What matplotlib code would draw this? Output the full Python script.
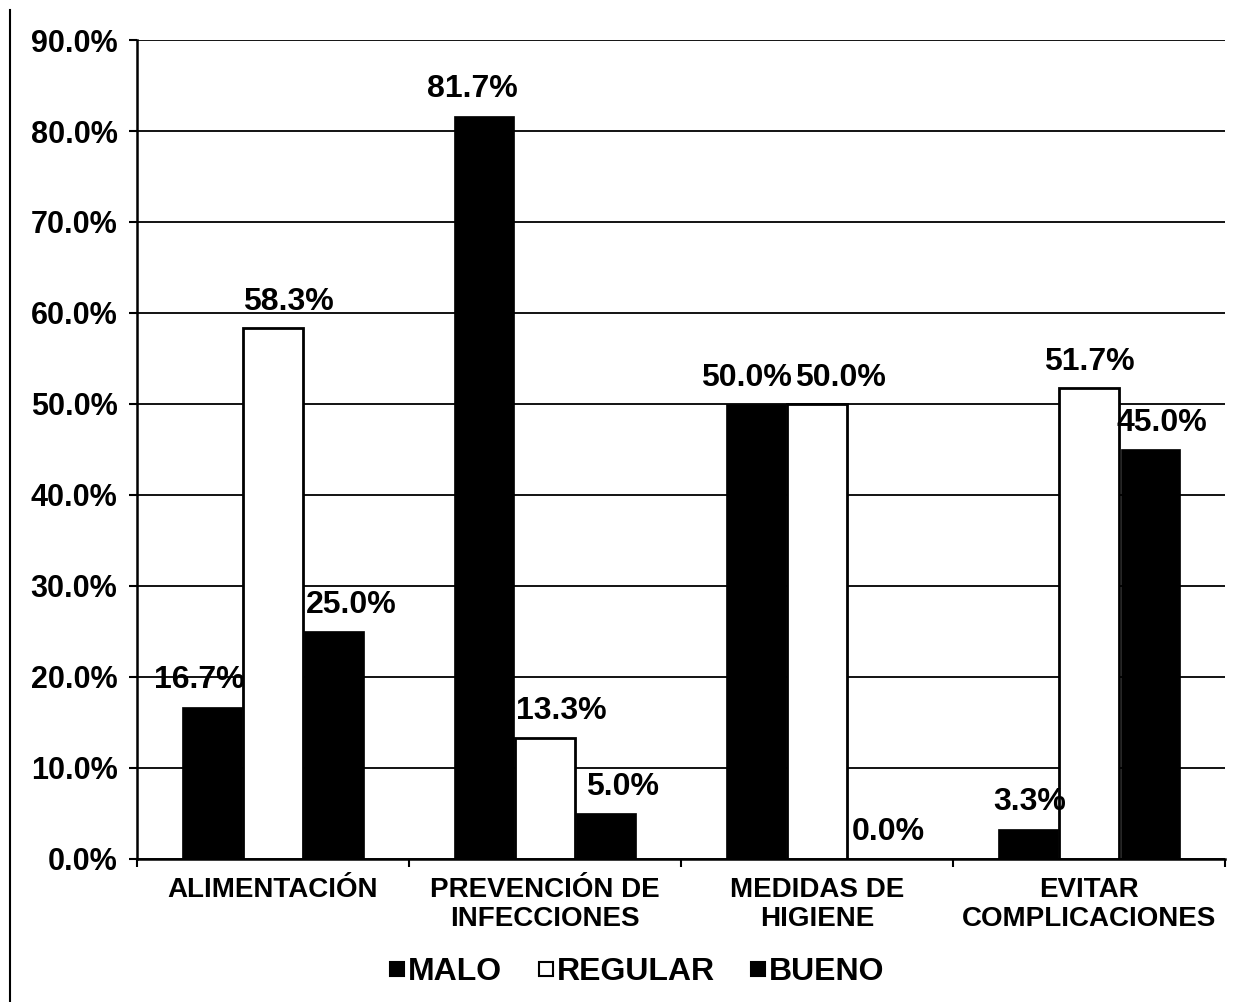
import matplotlib
matplotlib.use("Agg")
import matplotlib.pyplot as plt
from matplotlib.lines import Line2D
from matplotlib.ticker import FixedLocator, PercentFormatter
import numpy as np

# Data
categories = ["ALIMENTACIÓN", "PREVENCIÓN DE\nINFECCIONES", "MEDIDAS DE\nHIGIENE",
              "EVITAR\nCOMPLICACIONES"]
series_names = ["MALO", "REGULAR", "BUENO"]
malo = [16.7, 81.7, 50.0, 3.3]
regular = [58.3, 13.3, 50.0, 51.7]
bueno = [25.0, 5.0, 0.0, 45.0]
y_ticks = [0, 10, 20, 30, 40, 50, 60, 70, 80, 90]

# Small horizontal nudges (points) for the value labels, per series
label_nudge = [
    [-9, -8, -7, 1],
    [11, 12, 17, 0],
    [12, 12, 7, 8],
]

plt.rcParams["font.family"] = ["Liberation Sans", "DejaVu Sans"]
plt.rcParams["font.weight"] = "bold"

fig = plt.figure(figsize=(12.44, 10.02), dpi=100)
ax = fig.add_axes([0.110, 0.143, 0.875, 0.817])

x = np.arange(len(categories))
width = 0.22
offset = 0.225
series = [malo, regular, bueno]
fills = ["black", "white", "black"]

for i, (vals, fc) in enumerate(zip(series, fills)):
    pos = x + (i - 1) * offset
    ax.bar(pos, vals, width=width, color=fc, edgecolor="black",
           linewidth=2.0 if fc == "white" else 0.5, zorder=3)
    for j, (px, v) in enumerate(zip(pos, vals)):
        ax.annotate(f"{v:.1f}%", xy=(px, v), xytext=(label_nudge[i][j], 19),
                    textcoords="offset points", ha="center", va="center",
                    fontsize=23, fontweight="bold", zorder=5)

ax.set_xlim(-0.5, len(categories) - 0.5)
ax.set_ylim(0, 90)
ax.yaxis.set_major_locator(FixedLocator(y_ticks))
ax.yaxis.set_major_formatter(PercentFormatter(decimals=1))
ax.grid(axis="y", color="black", linewidth=1.3, zorder=0)

ax.set_xticks(x)
ax.set_xticklabels(categories, fontsize=20, fontweight="bold", linespacing=1.15)
ax.set_xticks(np.arange(len(categories) + 1) - 0.5, minor=True)
ax.tick_params(axis="x", which="major", length=0, pad=13)
ax.tick_params(axis="x", which="minor", length=6, width=1.5, direction="out")
ax.tick_params(axis="y", length=6, width=1.5, pad=8, labelsize=22)
for lab in ax.get_yticklabels():
    lab.set_fontweight("bold")

for side in ["top", "right"]:
    ax.spines[side].set_visible(False)
ax.spines["left"].set_linewidth(1.8)
ax.spines["bottom"].set_linewidth(1.8)
ax.spines["bottom"].set_zorder(4)

handles = [
    Line2D([], [], marker="s", linestyle="none", markersize=10,
           markerfacecolor=fc, markeredgecolor="black", markeredgewidth=1.5)
    for fc in fills
]
fig.legend(handles, series_names, loc="center", bbox_to_anchor=(0.512, 0.030),
           ncol=3, frameon=False, handlelength=0.5, handletextpad=0.1,
           columnspacing=1.1, prop={"size": 23, "weight": "bold"})

# Left frame rule
fig.add_artist(Line2D([0.008, 0.008], [0.0, 0.99], color="black", linewidth=1.5,
                      transform=fig.transFigure))

fig.savefig("out.png", dpi=100, facecolor="white")
